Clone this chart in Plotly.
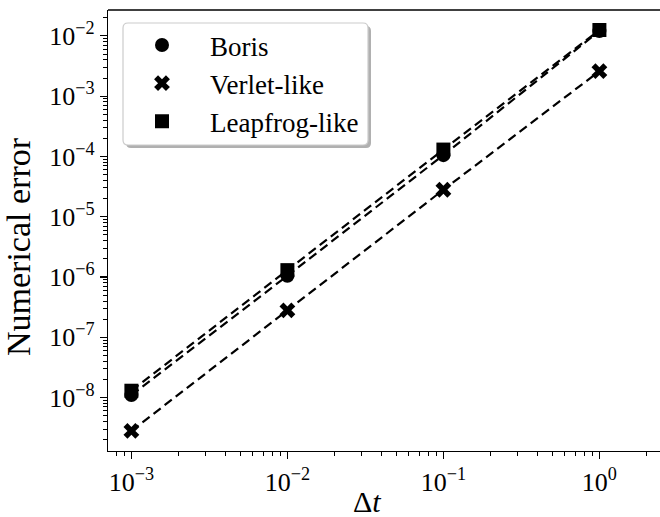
import plotly.graph_objects as go

# ---- data ----
dt = [1e-3, 1e-2, 1e-1, 1e0]
boris = [1.1e-8, 1.05e-6, 1.05e-4, 1.2e-2]
verlet = [2.8e-9, 2.8e-7, 2.8e-5, 2.6e-3]
leapfrog = [1.3e-8, 1.3e-6, 1.3e-4, 1.25e-2]
series_names = ["Boris", "Verlet-like", "Leapfrog-like"]
x_tick_vals = [1e-3, 1e-2, 1e-1, 1e0]
x_tick_text = ["10<sup>−3</sup>", "10<sup>−2</sup>", "10<sup>−1</sup>", "10<sup>0</sup>"]
y_tick_vals = [1e-8, 1e-7, 1e-6, 1e-5, 1e-4, 1e-3, 1e-2]
y_tick_text = ["10<sup>−8</sup>", "10<sup>−7</sup>", "10<sup>−6</sup>", "10<sup>−5</sup>",
               "10<sup>−4</sup>", "10<sup>−3</sup>", "10<sup>−2</sup>"]

FONT = "Liberation Serif"
W, H = 664, 517
L, R, T, B = 108, 0, 10, 66
pw, ph = W - L - R, H - T - B
x_lo = -3.15
x_hi = x_lo + pw / 156.0


def minor_vals(e0, e1):
    return [k * 10.0 ** e for e in range(e0, e1) for k in range(2, 10)]


fig = go.Figure()
symbols = ["circle", "x", "square"]
for name, ys, sym in zip(series_names, [boris, verlet, leapfrog], symbols):
    fig.add_trace(go.Scatter(x=dt, y=ys, mode="lines", showlegend=False,
                             line=dict(color="black", width=2.2, dash="9px,5px"),
                             hoverinfo="skip"))
    fig.add_trace(go.Scatter(x=dt, y=ys, mode="markers", name=name,
                             marker=dict(symbol=sym, color="black", size=14,
                                         line=dict(width=0))))


def px2paper(px, py):
    return (px - L) / pw, (H - B - py) / ph


def rounded_rect(x0, y0, x1, y1, r):
    def P(x, y):
        a, b = px2paper(x, y)
        return f"{a:.5f},{b:.5f}"
    return (f"M {P(x0 + r, y0)} L {P(x1 - r, y0)} Q {P(x1, y0)} {P(x1, y0 + r)} "
            f"L {P(x1, y1 - r)} Q {P(x1, y1)} {P(x1 - r, y1)} "
            f"L {P(x0 + r, y1)} Q {P(x0, y1)} {P(x0, y1 - r)} "
            f"L {P(x0, y0 + r)} Q {P(x0, y0)} {P(x0 + r, y0)} Z")


bx0, by0, bx1, by1 = 123, 23, 368, 145
shapes = [
    dict(type="line", xref="paper", yref="paper", x0=0, x1=1, y0=1, y1=1,
         layer="above", line=dict(color="black", width=1.3)),
    dict(type="path", xref="paper", yref="paper", layer="above",
         path=rounded_rect(bx0 + 3, by0 + 3, bx1 + 3, by1 + 3, 5),
         fillcolor="#b0b0b0", line=dict(width=0)),
    dict(type="path", xref="paper", yref="paper", layer="above",
         path=rounded_rect(bx0, by0, bx1, by1, 5),
         fillcolor="white", line=dict(color="#cccccc", width=1.2)),
]

fig.update_layout(
    width=W, height=H,
    margin=dict(l=L, r=R, t=T, b=B),
    paper_bgcolor="white", plot_bgcolor="white",
    font=dict(family=FONT, color="black"),
    shapes=shapes,
    legend=dict(x=(114 - L) / pw, y=(H - B - 21) / ph,
                xanchor="left", yanchor="top",
                bgcolor="rgba(0,0,0,0)", borderwidth=0,
                font=dict(family=FONT, size=27, color="black"),
                itemwidth=86),
    xaxis=dict(type="log", range=[x_lo, x_hi],
               showline=True, linecolor="black", linewidth=1.3, mirror=False,
               showgrid=False, zeroline=False,
               tickmode="array", tickvals=x_tick_vals, ticktext=x_tick_text,
               ticks="outside", ticklen=7, tickwidth=1.2, tickcolor="black",
               tickfont=dict(family=FONT, size=26),
               minor=dict(tickmode="array", tickvals=minor_vals(-4, 1),
                          ticks="outside", ticklen=4, tickwidth=1, tickcolor="black",
                          showgrid=False)),
    yaxis=dict(type="log", range=[-8.886, -1.571],
               showline=True, linecolor="black", linewidth=1.3, mirror=False,
               showgrid=False, zeroline=False,
               tickmode="array", tickvals=y_tick_vals, ticktext=y_tick_text,
               ticks="outside", ticklen=7, tickwidth=1.2, tickcolor="black",
               tickfont=dict(family=FONT, size=26),
               minor=dict(tickmode="array", tickvals=minor_vals(-10, -1),
                          ticks="outside", ticklen=4, tickwidth=1, tickcolor="black",
                          showgrid=False)),
    annotations=[
        dict(text="Δ<i>t</i>", xref="paper", yref="paper",
             x=(367 - L) / pw, y=(H - B - 502) / ph, xanchor="center", yanchor="middle",
             showarrow=False, font=dict(family=FONT, size=30)),
        dict(text="Numerical error", xref="paper", yref="paper", textangle=-90,
             x=(19 - L) / pw, y=(H - B - 247) / ph, xanchor="center", yanchor="middle",
             showarrow=False, font=dict(family=FONT, size=34)),
    ],
)

fig.write_html("out.html", config={"displayModeBar": False, "staticPlot": True},
               post_script="document.body.style.margin='0';document.body.style.overflow='hidden';")
